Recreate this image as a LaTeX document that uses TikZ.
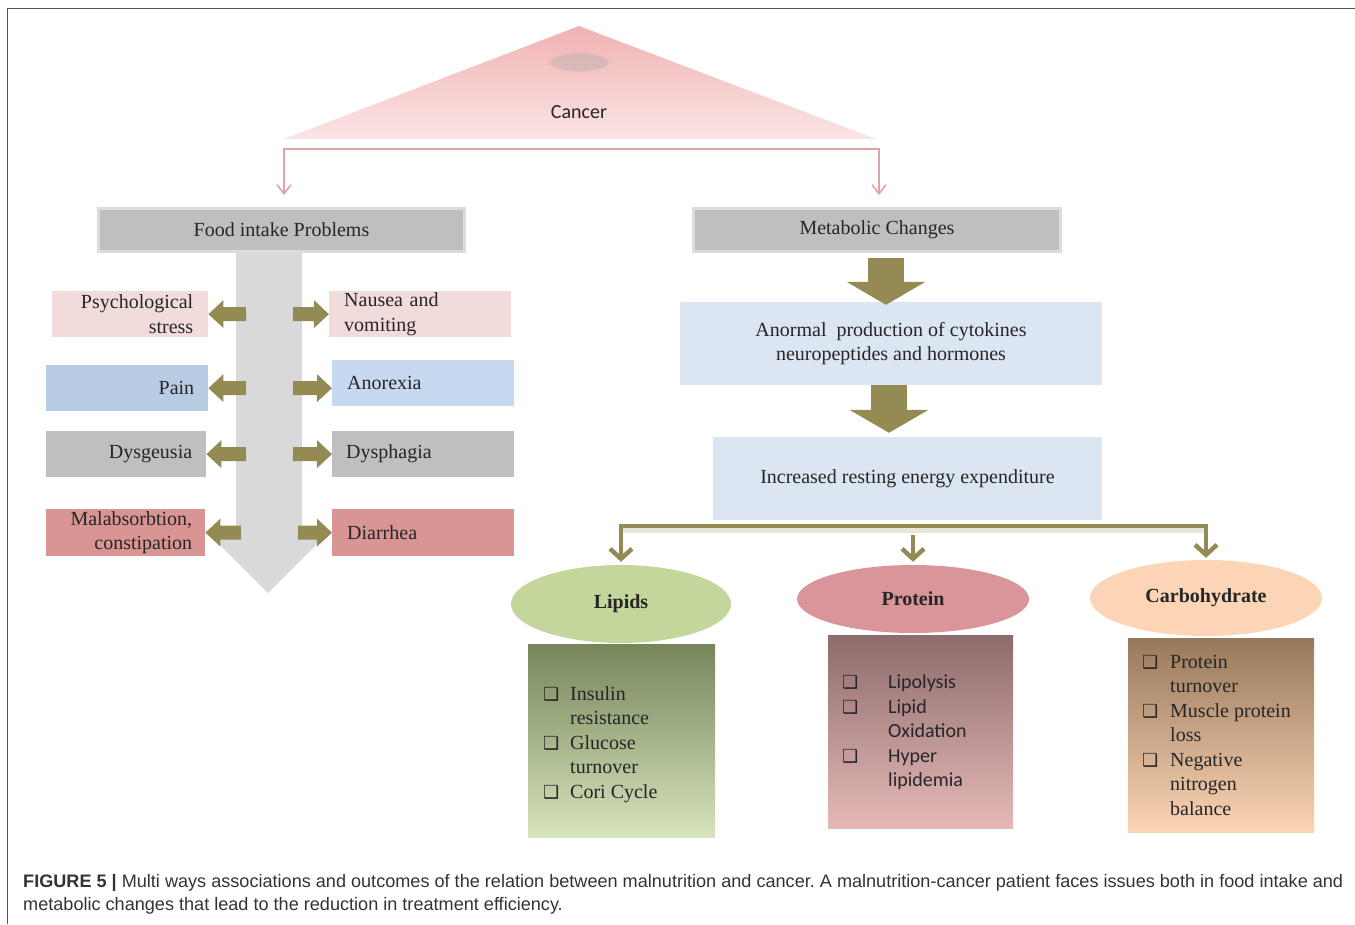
\documentclass[tikz,border=0pt]{standalone}
\usepackage{fontspec}
\setmainfont{Liberation Serif}
\newfontfamily\carl{Carlito}
\newfontfamily\lsans{Liberation Sans}
\newfontfamily\djv{DejaVu Sans}
\usetikzlibrary{arrows.meta,shapes.geometric,fadings,calc}
\frenchspacing

\definecolor{txt}{HTML}{262626}
\definecolor{pinkbox}{HTML}{F2DCDB}
\definecolor{painblue}{HTML}{B8CCE4}
\definecolor{anorblue}{HTML}{C6D9F1}
\definecolor{gbox}{HTML}{BFBFBF}
\definecolor{redbox}{HTML}{D99594}
\definecolor{olivc}{HTML}{948A54}
\definecolor{garrow}{HTML}{D9D9D9}
\definecolor{lblue}{HTML}{DCE6F2}
\definecolor{hdrgray}{HTML}{BFBFBF}
\definecolor{lipg}{HTML}{C3D69B}
\definecolor{protr}{HTML}{D9959A}
\definecolor{carbo}{HTML}{FBD5B5}
\definecolor{lipTop}{HTML}{76855A}
\definecolor{lipBot}{HTML}{D7E4BD}
\definecolor{protTop}{HTML}{8E6B6C}
\definecolor{protBot}{HTML}{E6B9B8}
\definecolor{carbTop}{HTML}{98785B}
\definecolor{carbBot}{HTML}{FCD5B5}
\definecolor{triTop}{HTML}{F1B2B2}
\definecolor{triBot}{HTML}{FBE5E5}
\definecolor{pinkln}{HTML}{DDA3A8}
\definecolor{framegray}{HTML}{555555}
\definecolor{captxt}{HTML}{333333}

\newcommand\bulsym{{\djv\fontsize{18}{18}\selectfont ❑}}

\tikzset{
  obtip/.tip={Straight Barb[length=10pt,width=22pt]},
  pinktip/.tip={Straight Barb[length=9pt,width=14pt]},
}

\begin{document}
\begin{tikzpicture}[x=1pt,y=-1pt,
  every node/.style={text=txt},
  serif20/.style={font=\fontsize{20}{24.5}\selectfont},
  hdr/.style={rectangle, fill=hdrgray, draw=hdrgray!55!white, line width=3pt,
    minimum height=43pt, inner sep=0pt, serif20},
  lbox/.style={rectangle, anchor=north west, inner ysep=0pt, inner xsep=15pt,
    minimum height=46pt, serif20},
  bigbox/.style={rectangle, fill=lblue, inner sep=0pt, minimum height=83pt, align=center, serif20},
  oarr/.style={draw=olivc, line width=14pt, -{Triangle[length=15pt,width=27pt]}},
  bigoarr/.style={draw=olivc, line width=36pt, -{Triangle[length=23pt,width=78pt]}},
  obline/.style={draw=olivc, line width=4.5pt},
  pinkline/.style={draw=pinkln, line width=1.6pt},
  elli/.style={ellipse, inner sep=0pt, font=\bfseries\fontsize{20}{24}\selectfont},
  listtxt/.style={anchor=north west, inner sep=0pt, font=\fontsize{20}{24.5}\selectfont},
  captxtstyle/.style={anchor=base west, inner sep=0pt, text=captxt, font=\lsans\fontsize{18.1}{22}\selectfont},
]
\useasboundingbox (0,0) rectangle (1355,924);

% frame
\draw[framegray, line width=1.5pt] (7.5,924) -- (7.5,8.5) -- (1355,8.5);

% cancer triangle
\shade[top color=triTop, bottom color=triBot] (579,26) -- (876,139) -- (284,139) -- cycle;
\fill[gray!70, opacity=0.35, path fading=circle with fuzzy edge 20 percent]
  (579,62) ellipse [x radius=32pt, y radius=10pt];
\node[font=\carl\fontsize{20}{24}\selectfont] (cancer) at (579,112) {Cancer};

% headers
\node[hdr, minimum width=366pt] (food) at (281.5,230) {Food intake Problems};
\node[hdr, minimum width=367pt] (meta) at (877,230) {Metabolic Changes};

% pink bracket
\draw[pinkline, {pinktip}-{pinktip}] ($(food.north)+(2.5,-12)$) -- ++(0,-46) -- ++(595,0)
  -- ($(meta.north)+(2,-12)$);

% big gray down arrow
\fill[garrow] (236,253) -- (302,253) -- (302,530) -- (331,530) -- (268,593)
  -- (205,530) -- (236,530) -- cycle;

% left boxes
\node[lbox, fill=pinkbox, text width=126pt, align=right] (psy) at (52,291) {Psychological\\stress};
\node[lbox, fill=painblue, text width=134pt, align=right, inner xsep=14pt] (pain) at (46,365) {Pain};
\node[lbox, fill=gbox, text width=132pt, align=right, inner xsep=14pt] (dysg) at (46,431) {Dysgeusia};
\node[lbox, fill=redbox, text width=133pt, align=right, inner xsep=13pt, minimum height=47pt] (mala) at (46,509) {Malabsorbtion,\\constipation};

% right boxes
\node[lbox, fill=pinkbox, text width=152pt, align=left] (naus) at (329,291) {Nausea and\\vomiting};
\node[lbox, fill=anorblue, text width=152pt, align=left] (anor) at (332,360) {Anorexia};
\node[lbox, fill=gbox, align=left, inner xsep=14pt, text width=154pt] (dysph) at (332,431) {Dysphagia};
\node[lbox, fill=redbox, text width=152pt, align=left, minimum height=47pt] (diar) at (332,509) {Diarrhea};

% olive small arrows
\draw[oarr] (246,314) -- (psy.east);
\draw[oarr] (293,314) -- (naus.west);
\draw[oarr] (246,388) -- (pain.east);
\draw[oarr] (293,388) -- (anor.west |- pain.east);
\draw[oarr] (246,454) -- (dysg.east);
\draw[oarr] (293,454) -- (dysph.west);
\draw[oarr] (241,532.5) -- (mala.east);
\draw[oarr] (298,532.5) -- (diar.west);

% metabolic column
\node[bigbox, minimum width=422pt] (anorm) at (891,343.5) {Anormal\ \ production of cytokines\\neuropeptides and hormones};
\node[bigbox, minimum width=389pt] (incr) at (907.5,478.5) {Increased resting energy expenditure};
\draw[bigoarr] ($(meta.south)+(9,5)$) -- ($(anorm.north)+(-5,3)$);
\draw[bigoarr] ($(anorm.south)+(-2,0)$) -- ($(incr.north)+(-18.5,-4)$);

% ellipses
\node[elli, fill=lipg, minimum width=220pt, minimum height=78pt] (lip) at (621,604) {Lipids};
\node[elli, fill=protr, minimum width=232pt, minimum height=68pt] (prot) at (913,599) {Protein};
\node[elli, fill=carbo, minimum width=232pt, minimum height=76pt] (carb) at (1206,598) {\raisebox{-2pt}{Carbohydrate}};

% olive bracket
\coordinate (brk) at (914,526);
\coordinate (bl) at (lip.north |- brk);
\coordinate (br) at (carb.north |- brk);
\coordinate (bm) at (prot.north |- brk);
\draw[olivc!22, line width=6pt] ($(bl)+(0,3.5)$) -- ($(br)+(0,3.5)$);
\draw[obline, {obtip}-{obtip}] ($(lip.north)+(0,-3)$) -- (bl) -- (br) -- ($(carb.north)+(0,-2)$);
\draw[obline, -{obtip}] ($(bm)+(0,9)$) -- ($(prot.north)+(0,-3)$);

% detail boxes
\node[rectangle, anchor=north west, inner sep=0pt, minimum width=187pt, minimum height=193pt,
  top color=lipTop, bottom color=lipBot] (lipb) at (528,644) {};
\node[rectangle, anchor=north west, inner sep=0pt, minimum width=185pt, minimum height=193pt,
  top color=protTop, bottom color=protBot] (protb) at (828,635) {};
\node[rectangle, anchor=north west, inner sep=0pt, minimum width=186pt, minimum height=194pt,
  top color=carbTop, bottom color=carbBot] (carbb) at (1128,638) {};

\node[listtxt] (lipt) at ($(lipb.north west)+(15,39)$) {\begin{tabular}{@{}p{27pt}@{}l@{}}
\bulsym & Insulin\\ & resistance\\ \bulsym & Glucose\\ & turnover\\ \bulsym & Cori Cycle
\end{tabular}};
\node[listtxt, font=\carl\fontsize{20}{24.6}\selectfont] (prott) at ($(protb.north west)+(14,36)$) {\begin{tabular}{@{}p{46pt}@{}l@{}}
\bulsym & Lipolysis\\ \bulsym & Lipid\\ & Oxidation\\ \bulsym & Hyper\\ & lipidemia
\end{tabular}};
\node[listtxt] (carbt) at ($(carbb.north west)+(14,13)$) {\begin{tabular}{@{}p{28pt}@{}l@{}}
\bulsym & Protein\\ & turnover\\ \bulsym & Muscle protein\\ & loss\\ \bulsym & Negative\\ & nitrogen\\ & balance
\end{tabular}};

% caption
\node[captxtstyle] (cap1) at (23,887)
  {\textbf{FIGURE 5 |} Multi ways associations and outcomes of the relation between malnutrition and cancer. A malnutrition-cancer patient faces issues both in food intake and};
\node[captxtstyle] (cap2) at (23,910)
  {metabolic changes that lead to the reduction in treatment efficiency.};
\end{tikzpicture}
\end{document}
